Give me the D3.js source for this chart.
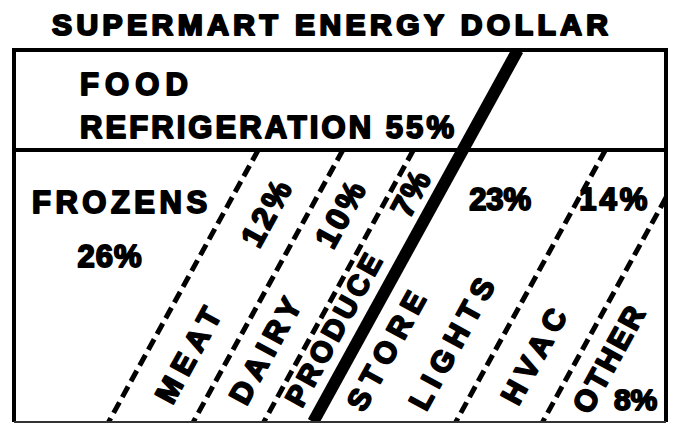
<!DOCTYPE html>
<html>
<head>
<meta charset="utf-8">
<script src="https://cdn.jsdelivr.net/npm/d3@7"></script>
<style>
  body { margin: 0; background: #fff; }
  svg text {
    font-family: "Liberation Sans", Arial, sans-serif;
    font-weight: bold;
    fill: #000;
    stroke: #000;
    stroke-width: 1.9px;
    stroke-linejoin: round;
  }
</style>
</head>
<body>
<svg id="chart" width="675" height="424"></svg>
<script>
// data
const title = "SUPERMART ENERGY DOLLAR";
const categories = ["FROZENS", "MEAT", "DAIRY", "PRODUCE", "LIGHTS", "HVAC", "OTHER"];
const groups = ["FOOD", "FOOD", "FOOD", "FOOD", "STORE", "STORE", "STORE"];
const shares = [26, 12, 10, 7, 23, 14, 8];
const labels = [["FROZENS"], ["MEAT"], ["DAIRY"], ["PRODUCE"], ["STORE", "LIGHTS"], ["HVAC"], ["OTHER"]];
const foodTitle = ["FOOD", "REFRIGERATION"];

const svg = d3.select("#chart");

// frame of the "dollar"
const box = {left: 14, right: 666, top: 50, split: 150, bottom: 422};
const yMid = (box.split + box.bottom) / 2;
const lean = 0.55;                       // horizontal shift per pixel of height
const angle = -Math.atan2(1, lean) * 180 / Math.PI;

const cum = Array.from(d3.cumsum(shares));
const foodShare = d3.sum(shares.filter((d, i) => groups[i] === "FOOD"));

// share of the dollar -> x position at mid height of the lower panel
// (food and store halves each get their own stretch, as in the drawing)
const x = d3.scaleLinear().domain([0, foodShare, 100]).range([0, 388, 667]);
const lineX = (c, y) => x(c) + lean * (yMid - y);

// where each label sits (layout only)
const place = {
  FROZENS: {name: {y: 202, rot: false, size: 31, sp: 4.5}, pct: {y: 256, rot: false, size: 31, sp: 1, dx: 3}},
  MEAT:    {name: {y: 352, rot: true, sp: 7}, pct: {y: 212, rot: true, sp: 3, size: 32}},
  DAIRY:   {name: {y: 348, rot: true, sp: 6, dx: -3}, pct: {y: 213, rot: true, sp: 3, size: 32, dx: -3}},
  PRODUCE: {name: {y: 328, rot: true, dx: -6, sp: 4, size: 29}, pct: {y: 193, rot: true, dx: -4, sp: 1, size: 32}},
  LIGHTS:  {name: {y: 344, rot: true, sp: 7, dx: -7}, pct: {y: 199, rot: false, size: 31, sp: 0, dx: -7}},
  HVAC:    {name: {y: 353, rot: true, sp: 7, dx: -2}, pct: {y: 199, rot: false, size: 31, sp: 3, dx: -7}},
  OTHER:   {name: {y: 358, rot: true, dx: -13, sp: 3}, pct: {y: 399, rot: false, size: 30, sp: 0, dx: 25}}
};

svg.append("clipPath").attr("id", "inside")
  .append("rect")
  .attr("x", box.left).attr("y", box.top)
  .attr("width", box.right - box.left).attr("height", box.bottom - box.top);

// title
svg.append("text")
  .attr("x", 52).attr("y", 35)
  .attr("textLength", 556).attr("lengthAdjust", "spacing")
  .style("font-size", "30px")
  .style("stroke-width", "2.2px")
  .text(title);

// boundaries between categories in the lower panel
const bounds = cum.slice(0, -1).map(c => ({c: c, thick: c === foodShare}));

svg.append("g").attr("clip-path", "url(#inside)")
  .selectAll("line.dash")
  .data(bounds.filter(d => !d.thick))
  .enter()
  .append("line")
  .attr("class", "dash")
  .attr("x1", d => lineX(d.c, box.split))
  .attr("y1", box.split)
  .attr("x2", d => lineX(d.c, box.bottom))
  .attr("y2", box.bottom)
  .attr("stroke", "#000")
  .attr("stroke-width", 5)
  .attr("stroke-dasharray", "12,6");

// heavy line splitting food refrigeration from the store, full height
svg.append("g").attr("clip-path", "url(#inside)")
  .selectAll("line.thick")
  .data(bounds.filter(d => d.thick))
  .enter()
  .append("line")
  .attr("class", "thick")
  .attr("x1", d => lineX(d.c, box.top))
  .attr("y1", box.top)
  .attr("x2", d => lineX(d.c, box.bottom))
  .attr("y2", box.bottom)
  .attr("stroke", "#000")
  .attr("stroke-width", 12);

// outer box and the horizontal split
svg.append("path")
  .attr("d", `M${box.left},${box.bottom} V${box.top} H${box.right} V${box.bottom}`)
  .attr("fill", "none").attr("stroke", "#000").attr("stroke-width", 4);
svg.append("line")
  .attr("x1", box.left).attr("x2", box.right)
  .attr("y1", box.split).attr("y2", box.split)
  .attr("stroke", "#000").attr("stroke-width", 4);
svg.append("line")
  .attr("x1", box.left).attr("x2", box.right)
  .attr("y1", box.bottom).attr("y2", box.bottom)
  .attr("stroke", "#333").attr("stroke-width", 2);

// upper panel label
svg.append("text")
  .attr("x", 80).attr("y", 95)
  .attr("textLength", 108).attr("lengthAdjust", "spacing")
  .style("font-size", "31px")
  .text(foodTitle[0]);
svg.append("text")
  .attr("x", 80).attr("y", 138)
  .attr("textLength", 374).attr("lengthAdjust", "spacing")
  .style("font-size", "31px")
  .text(foodTitle[1] + " " + foodShare + "%");

// centre of a band at height y
function bandCenter(i, y) {
  const l = i === 0 ? box.left : lineX(cum[i - 1], y);
  const r = i === categories.length - 1 ? box.right : lineX(cum[i], y);
  return (l + r) / 2;
}

function drawLabel(i, lines, p) {
  const cx = bandCenter(i, p.y) + (p.dx || 0);
  const t = svg.append("text")
    .attr("text-anchor", "middle")
    .style("font-size", (p.size || 30) + "px")
    .style("letter-spacing", (p.sp === undefined ? 7 : p.sp) + "px");
  if (p.rot) {
    t.attr("transform", `translate(${cx},${p.y}) rotate(${angle})`);
    if (lines.length === 1) {
      t.append("tspan").attr("x", 0).attr("y", 0).attr("dy", "0.36em").text(lines[0]);
    } else {
      lines.forEach((s, k) => {
        const off = k === 0 ? -1 : 1;
        t.append("tspan")
          .attr("x", off * 19).attr("y", off * 27)
          .attr("dy", "0.36em").text(s);
      });
    }
  } else {
    t.attr("x", cx).attr("y", p.y).attr("dy", "0.36em").text(lines.join(" "));
  }
}

categories.forEach((c, i) => {
  drawLabel(i, labels[i], place[c].name);
  drawLabel(i, [shares[i] + "%"], place[c].pct);
});
</script>
</body>
</html>
